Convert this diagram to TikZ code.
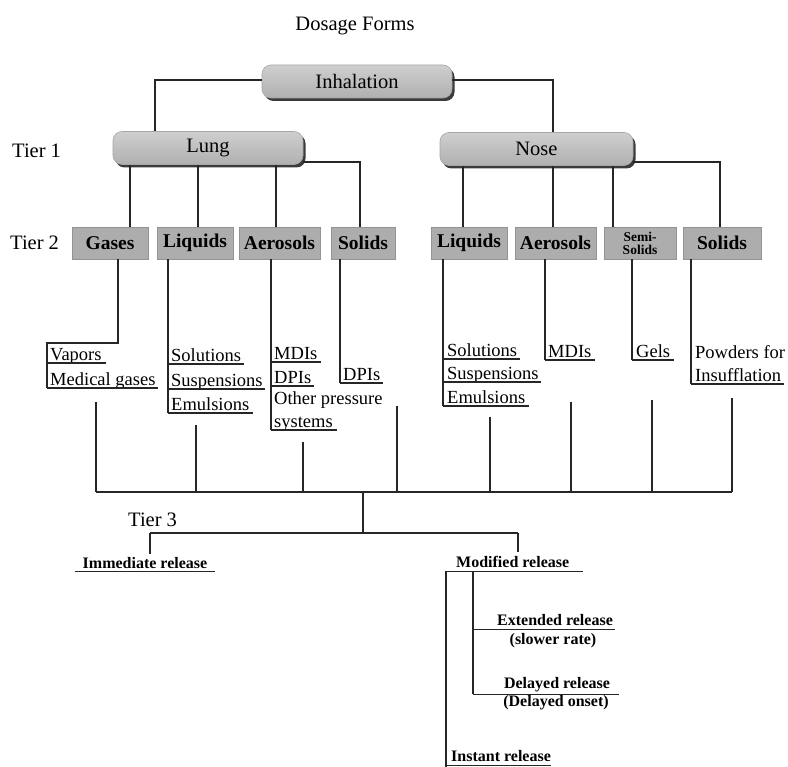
\documentclass[tikz,border=0pt]{standalone}
\usepackage{fontspec}
\setmainfont{Liberation Serif}
\usetikzlibrary{shadows,calc}
\begin{document}
\begin{tikzpicture}[x=1pt,y=1pt,
  line/.style={draw=black!85, line width=1.4pt},
  rbox/.style={rounded corners=9pt, minimum height=33pt, inner sep=0pt,
    top color=gray!38, bottom color=gray!62, draw=gray!70, line width=0.6pt,
    drop shadow={shadow xshift=2.5pt, shadow yshift=-3pt, fill=black!85, opacity=0.9},
    font=\fontsize{20.5}{24}\selectfont},
  tbox/.style={draw=gray!85, line width=0.8pt, fill=gray!64, minimum height=32pt,
    inner sep=0pt, font=\bfseries\fontsize{19.5}{22}\selectfont},
  item/.style={anchor=base west, inner xsep=0pt, inner ysep=1.8pt, text depth=0pt,
    font=\fontsize{18.5}{22}\selectfont},
  tlab/.style={inner sep=0pt, font=\fontsize{20.5}{24}\selectfont},
  rel/.style={anchor=base, inner xsep=0pt, text depth=0pt,
    font=\bfseries\fontsize{16}{19}\selectfont},
  ul/.style={draw=black!85, line width=1.1pt}
]
\useasboundingbox[fill=white] (0,0) rectangle (788,-767);

% title and top level
\node[tlab] (title) at (355,-26) {Dosage Forms};
\node[rbox, minimum width=190pt] (inh) at (357,-81.5) {Inhalation};
\node[rbox, minimum width=190pt] (lung) at (208,-148) {Lung};
\node[rbox, minimum width=193pt] (nose) at (536.5,-149) {Nose};

% tier labels
\node[tlab, anchor=base west] (t1) at (12,-158) {Tier 1};
\node[tlab, anchor=base west] (t2) at (10,-250) {Tier 2};
\node[tlab, anchor=base west] (t3) at (128,-526) {Tier 3};

% tier 2 boxes
\node[tbox, minimum width=76pt] (gases) at (110,-243) {Gases};
\node[tbox, minimum width=76pt] (lliq) at (195,-243) {Liquids};
\node[tbox, minimum width=81pt] (laer) at (279.5,-243) {Aerosols};
\node[tbox, minimum width=64pt] (lsol) at (363,-243) {Solids};
\node[tbox, minimum width=76pt] (nliq) at (469,-243) {Liquids};
\node[tbox, minimum width=81pt] (naer) at (555.5,-243) {Aerosols};
\node[tbox, minimum width=72pt, align=center, font=\bfseries\fontsize{13.5}{13}\selectfont] (nsemi) at (640,-243) {Semi-\\Solids};
\node[tbox, minimum width=78pt] (nsol) at (722,-243) {Solids};

% Inhalation -> Lung / Nose
\coordinate (jl) at (155,-80);
\coordinate (jr) at (553,-80);
\draw[line] (inh.west |- jl) -- (jl) -- (jl |- lung.north);
\draw[line] (inh.east |- jr) -- (jr) -- (jr |- nose.north);

% Lung -> tier 2
\coordinate (x1) at (130,0);
\coordinate (x2) at (198,0);
\coordinate (x3) at (276,0);
\coordinate (ls) at (360,-162);
\draw[line] (lung.south -| x1) -- (gases.north -| x1);
\draw[line] (lung.south -| x2) -- (lliq.north -| x2);
\draw[line] (lung.south -| x3) -- (laer.north -| x3);
\draw[line] (lung.east |- ls) -- (ls) -- (ls |- lsol.north);

% Nose -> tier 2
\coordinate (x4) at (463,0);
\coordinate (x5) at (553,0);
\coordinate (x6) at (613,0);
\coordinate (ns) at (720,-162);
\draw[line] (nose.south -| x4) -- (nliq.north -| x4);
\draw[line] (nose.south -| x5) -- (naer.north -| x5);
\draw[line] (nose.south -| x6) -- (nsemi.north -| x6);
\draw[line] (nose.east |- ns) -- (ns) -- (ns |- nsol.north);

% ---- lists ----
% Gases
\node[item] (vap) at (50,-361) {Vapors};
\node[item] (mgas) at (50,-386) {Medical gases};
\coordinate (gx) at (118,0);
\coordinate (gk) at (47,-343);
\draw[line] (gases.south -| gx) -- (gx |- gk) -- (gk) -- (gk |- mgas.south);
\draw[ul] (gk |- vap.south) -- ([xshift=4pt]vap.south east);
\draw[ul] (gk |- mgas.south) -- ([xshift=2pt]mgas.south east);

% Lung liquids
\coordinate (llx) at (168,0);
\node[item] (lsolu) at (171,-362) {Solutions};
\node[item] (lsusp) at (171,-387) {Suspensions};
\node[item] (lemul) at (171,-411) {Emulsions};
\draw[line] (lliq.south -| llx) -- (llx |- lemul.south);
\draw[ul] (llx |- lsolu.south) -- ([xshift=3pt]lsolu.south east);
\draw[ul] (llx |- lsusp.south) -- ([xshift=2pt]lsusp.south east);
\draw[ul] (llx |- lemul.south) -- ([xshift=3pt]lemul.south east);

% Lung aerosols
\coordinate (lax) at (271,0);
\node[item] (lmdi) at (274,-360) {MDIs};
\node[item] (ldpi) at (274,-384) {DPIs};
\node[item] (lother) at (274,-405) {Other pressure};
\node[item] (lsys) at (274,-428) {systems};
\draw[line] (laer.south -| lax) -- (lax |- lsys.south);
\draw[ul] (lax |- lmdi.south) -- ([xshift=3pt]lmdi.south east);
\draw[ul] (lax |- ldpi.south) -- ([xshift=3pt]ldpi.south east);
\draw[ul] (lax |- lsys.south) -- ([xshift=4pt]lsys.south east);

% Lung solids
\coordinate (lsx) at (340,0);
\node[item] (ldpi2) at (343,-381) {DPIs};
\draw[line] (lsol.south -| lsx) -- (lsx |- ldpi2.south);
\draw[ul] (lsx |- ldpi2.south) -- ([xshift=3pt]ldpi2.south east);

% Nose liquids
\coordinate (nlx) at (443,0);
\node[item] (nsolu) at (447,-357) {Solutions};
\node[item] (nsusp) at (447,-380) {Suspensions};
\node[item] (nemul) at (447,-404) {Emulsions};
\draw[line] (nliq.south -| nlx) -- (nlx |- nemul.south);
\draw[ul] (nlx |- nsolu.south) -- ([xshift=3pt]nsolu.south east);
\draw[ul] (nlx |- nsusp.south) -- ([xshift=2pt]nsusp.south east);
\draw[ul] (nlx |- nemul.south) -- ([xshift=3pt]nemul.south east);

% Nose aerosols
\coordinate (nax) at (545,0);
\node[item] (nmdi) at (548,-358) {MDIs};
\draw[line] (naer.south -| nax) -- (nax |- nmdi.south);
\draw[ul] (nax |- nmdi.south) -- ([xshift=3pt]nmdi.south east);

% Nose semi-solids
\coordinate (nmx) at (632,0);
\node[item] (gels) at (636,-358) {Gels};
\draw[line] (nsemi.south -| nmx) -- (nmx |- gels.south);
\draw[ul] (nmx |- gels.south) -- ([xshift=4pt]gels.south east);

% Nose solids
\coordinate (nsx) at (691,0);
\node[item] (powd) at (695,-359) {Powders for};
\node[item] (insuf) at (695,-382) {Insufflation};
\draw[line] (nsol.south -| nsx) -- (nsx |- insuf.south);
\draw[ul] (nsx |- insuf.south) -- ([xshift=3pt]insuf.south east);

% ---- bottom comb ----
\coordinate (bl) at (96,-492);
\coordinate (br) at (732,-492);
\coordinate (b1) at (96,-402);
\coordinate (b2) at (196,-425);
\coordinate (b3) at (303,-442);
\coordinate (b4) at (397,-406);
\coordinate (b5) at (490,-417);
\coordinate (b6) at (571,-402);
\coordinate (b7) at (652,-400);
\coordinate (b8) at (732,-398);
\draw[line] (bl) -- (br);
\foreach \b in {b1,b2,b3,b4,b5,b6,b7,b8} \draw[line] (\b) -- (\b |- bl);

% ---- tier 3 ----
\coordinate (bc) at (363,-492);
\coordinate (t3c) at (363,-533);
\coordinate (t3l) at (150,-533);
\coordinate (t3r) at (518,-533);
\draw[line] (bc) -- (t3c);
\draw[line] (t3l) -- (t3r);

\node[rel, inner ysep=3pt] (imm) at (145,-568) {Immediate release};
\draw[line] (t3l) -- (t3l |- imm.north);
\draw[ul] ([xshift=-8pt]imm.south west) -- ([xshift=8pt]imm.south east);

\node[rel, anchor=base west, inner ysep=4pt] (mod) at (456,-567) {Modified release};
\draw[line] (t3r) -- (t3r |- mod.north);
\coordinate (m1) at (446,0);
\coordinate (m2) at (473,0);
\coordinate (mbot) at (446,-767);
\draw[ul] (m1 |- mod.south) -- ([xshift=14pt]mod.south east);
\draw[line] (m1 |- mod.south) -- (mbot);

\node[rel, inner ysep=4.5pt] (ext) at (555,-625) {Extended release};
\node[rel] (extb) at (553,-644) {(slower rate)};
\node[rel, inner ysep=6pt] (del) at (557,-688) {Delayed release};
\node[rel] (delb) at (556,-706) {(Delayed onset)};
\draw[line] (m2 |- mod.south) -- (m2 |- del.south);
\draw[ul] (m2 |- ext.south) -- ([xshift=2pt]ext.south east);
\draw[ul] (m2 |- del.south) -- ([xshift=9pt]del.south east);

\node[rel, anchor=base west, inner ysep=4pt] (inst) at (451,-761) {Instant release};
\draw[ul] (m1 |- inst.south) -- (inst.south east);
\end{tikzpicture}
\end{document}
